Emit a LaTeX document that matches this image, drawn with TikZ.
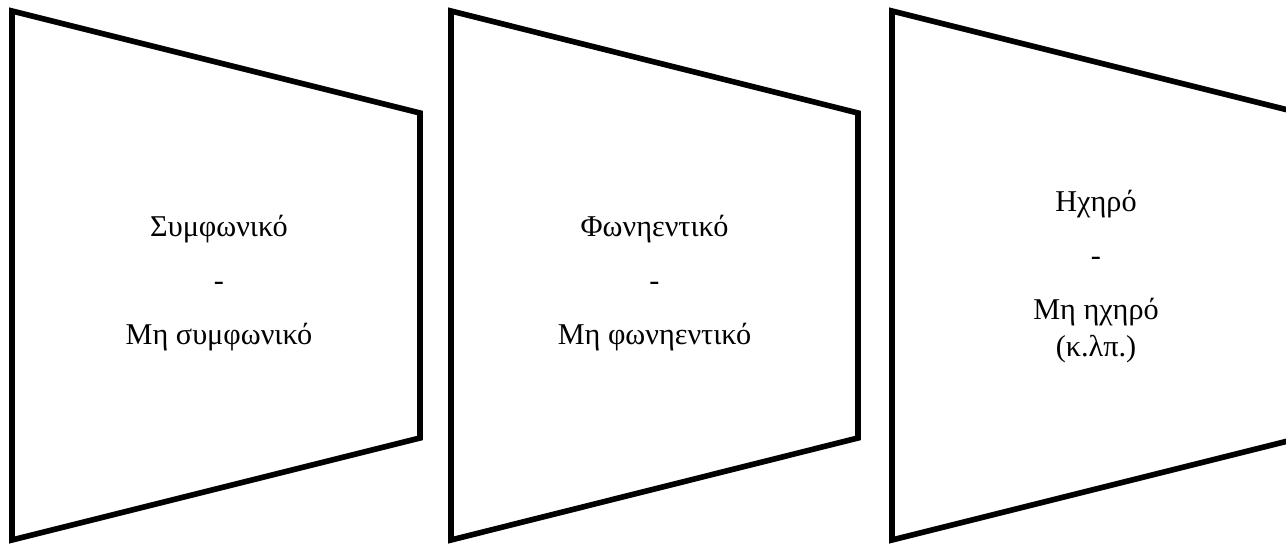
\documentclass[tikz,border=0pt]{standalone}
\usepackage{fontspec}
\setmainfont{Liberation Serif}
\usetikzlibrary{positioning}
\tikzset{
  frame/.style ={draw=black, line width=3.2pt, line join=miter, fill=white},
  lbl/.style   ={align=center, inner sep=0pt, font=\fontsize{17.2}{30.5}\selectfont},
}

\begin{document}
\begin{tikzpicture}
    \useasboundingbox (0,0) rectangle (25.72,10.92);
    \clip (0,0) rectangle (25.72,10.92);

    % three funnels, tall side left
    \draw[frame] (0.24,10.7) -- (8.4,8.66) -- (8.4,2.16) -- (0.24,0.12) -- cycle;
    \draw[frame] (9.02,10.7) -- (17.16,8.66) -- (17.16,2.16) -- (9.02,0.12) -- cycle;
    \draw[frame] (17.84,10.7) -- (26.0,8.66) -- (26.0,2.16) -- (17.84,0.12) -- cycle;

    \node[lbl] (cons) at (4.38,5.26) {Συμφωνικό\\-\\Μη συμφωνικό};
    \node[lbl] (voc)  at (13.09,5.26) {Φωνηεντικό\\-\\Μη φωνηεντικό};
    \node[lbl] (voice) at (21.92,5.38) {Ηχηρό\\-\\Μη ηχηρό\\[-9pt](κ.λπ.)};
  \end{tikzpicture}
\end{document}
